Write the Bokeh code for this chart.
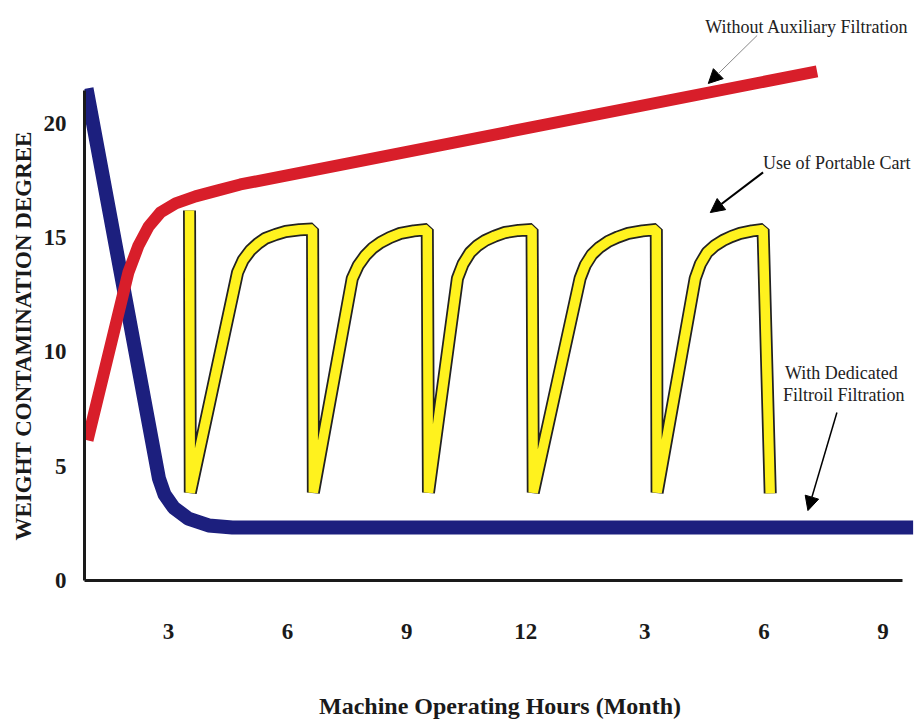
from bokeh.plotting import figure
from bokeh.models import Range1d, Label, Arrow, NormalHead, FixedTicker, Title
from bokeh.embed import file_html
from bokeh.resources import INLINE

# ---------------- data (months, contamination degree) ----------------
x_ticks = [3, 6, 9, 12, 15, 18, 21]
x_tick_labels = ["3", "6", "9", "12", "3", "6", "9"]
y_ticks = [0, 5, 10, 15, 20]

# With Dedicated Filtroil Filtration
dedicated_month = [0.935, 2.76, 2.90, 3.13, 3.50, 4.01, 4.61, 21.76]
dedicated_level = [21.53, 4.46, 3.76, 3.19, 2.71, 2.41, 2.32, 2.32]

# Without Auxiliary Filtration
without_month = [0.96, 1.99, 2.245, 2.50, 2.80, 3.18, 3.68, 4.20, 4.81, 19.34]
without_level = [6.13, 13.48, 14.66, 15.49, 16.11, 16.50, 16.81, 17.05, 17.33, 22.28]

# Use of Portable Cart (saw-tooth)
cart_month = [3.53, 3.55, 4.74, 4.88, 5.06, 5.25, 5.44, 5.70, 5.95, 6.30, 6.63,
              6.65, 7.63, 7.78, 7.96, 8.14, 8.34, 8.58, 8.84, 9.18, 9.52,
              9.55, 10.28, 10.42, 10.60, 10.78, 10.98, 11.22, 11.48, 11.82, 12.16,
              12.19, 13.37, 13.50, 13.67, 13.86, 14.08, 14.32, 14.58, 14.94, 15.29,
              15.31, 16.27, 16.40, 16.57, 16.76, 16.97, 17.18, 17.40, 17.70, 17.98,
              18.16]
cart_level = [16.19, 3.85, 13.48, 14.02, 14.44, 14.74, 14.97, 15.14, 15.27, 15.35, 15.38,
              3.85, 13.22, 13.78, 14.22, 14.54, 14.79, 15.01, 15.19, 15.30, 15.36,
              3.85, 13.22, 13.85, 14.35, 14.65, 14.88, 15.07, 15.23, 15.32, 15.36,
              3.85, 13.22, 13.80, 14.27, 14.58, 14.84, 15.03, 15.19, 15.30, 15.36,
              3.85, 13.22, 13.85, 14.35, 14.65, 14.88, 15.05, 15.19, 15.30, 15.36,
              3.81]

SERIF = "Liberation Serif"
INK = "#1a1a1a"

p = figure(width=915, height=723,
           x_range=Range1d(0.884, 21.82), y_range=Range1d(0, 25.38),
           output_backend="svg", toolbar_location=None,
           min_border_left=84, min_border_right=0,
           min_border_top=0, min_border_bottom=143)
p.background_fill_color = "white"
p.border_fill_color = "white"
p.outline_line_color = None
p.xgrid.visible = False
p.ygrid.visible = False

for ax in (p.xaxis[0], p.yaxis[0]):
    ax.axis_line_color = INK
    ax.axis_line_width = 3
    ax.major_tick_line_color = None
    ax.minor_tick_line_color = None
    ax.major_label_text_font = SERIF
    ax.major_label_text_font_style = "bold"
    ax.major_label_text_font_size = "23px"
    ax.major_label_text_color = INK

p.xaxis[0].ticker = FixedTicker(ticks=x_ticks)
p.xaxis[0].major_label_overrides = {t: l for t, l in zip(x_ticks, x_tick_labels)}
p.xaxis[0].major_label_standoff = 37
p.xaxis[0].bounds = (0.884, 21.5)
p.xaxis[0].axis_label = "Machine Operating Hours (Month)"
p.xaxis[0].axis_label_text_font = SERIF
p.xaxis[0].axis_label_text_font_style = "bold"
p.xaxis[0].axis_label_text_font_size = "24px"
p.xaxis[0].axis_label_text_color = INK
p.xaxis[0].axis_label_standoff = 51

p.yaxis[0].ticker = FixedTicker(ticks=y_ticks)
p.yaxis[0].major_label_standoff = 12
p.yaxis[0].bounds = (0, 21.45)

p.add_layout(Title(text="WEIGHT CONTAMINATION DEGREE", align="left", offset=40,
                   text_font=SERIF, text_font_style="bold",
                   text_font_size="23px", text_color=INK, standoff=10), "left")

# curves
p.line(dedicated_month, dedicated_level, line_color="#1c1f7e", line_width=14,
       line_join="round")
p.line(without_month, without_level, line_color="#d81e2a", line_width=12,
       line_join="round")
p.line(cart_month, cart_level, line_color="#222222", line_width=13,
       line_join="bevel")
p.line(cart_month, cart_level, line_color="#fff21e", line_width=9.5,
       line_join="bevel")

# annotations
def note(x, y, text):
    p.add_layout(Label(x=x, y=y, text=text, text_font=SERIF,
                       text_font_size="18px", text_color="#222222",
                       text_align="left", text_baseline="middle"))

note(16.52, 24.2, "Without Auxiliary Filtration")
note(17.98, 18.29, "Use of Portable Cart")
note(18.53, 9.1, "With Dedicated")
note(18.48, 8.1, "Filtroil Filtration")

p.add_layout(Arrow(end=NormalHead(size=14, fill_color="black", line_color="black"),
                   x_start=17.83, y_start=23.85, x_end=16.60, y_end=21.75,
                   line_color="#888888", line_width=1))
p.add_layout(Arrow(end=NormalHead(size=14, fill_color="black", line_color="black"),
                   x_start=17.98, y_start=17.86, x_end=16.65, y_end=16.10,
                   line_color="black", line_width=2))
p.add_layout(Arrow(end=NormalHead(size=14, fill_color="black", line_color="black"),
                   x_start=19.84, y_start=7.35, x_end=19.11, y_end=3.06,
                   line_color="black", line_width=1.5))

open("out.html", "w").write(file_html(p, INLINE))
